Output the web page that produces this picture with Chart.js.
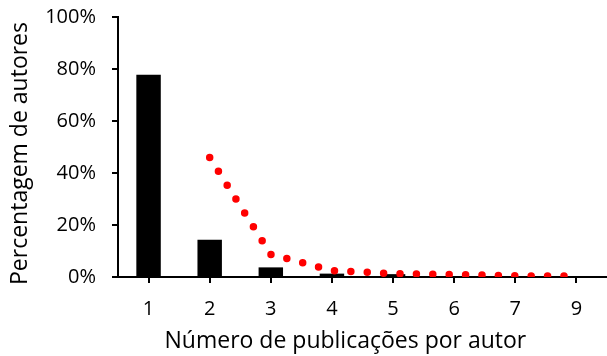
<!DOCTYPE html>
<html>
<head>
<meta charset="utf-8">
<script src="https://cdn.jsdelivr.net/npm/chart.js@4.4.1/dist/chart.umd.min.js"></script>
<style>
  html, body { margin: 0; padding: 0; background: #fff; }
  #wrap { width: 607px; height: 356px; position: relative; }
</style>
</head>
<body>
<div id="wrap"><canvas id="c" width="607" height="356"></canvas></div>
<script>
const categories = ['1', '2', '3', '4', '5', '6', '7', '9'];
const authorPercent = [77.8, 14.3, 3.7, 1.3, 1.1, 0.3, 0.2, 0.1];
const trendPercent = [null, 46.0, 8.7, 2.5, 1.3, 0.95, 0.45, 0.35];
const yTicks = [0, 20, 40, 60, 80, 100];
const xTitle = 'Número de publicações por autor';
const yTitle = 'Percentagem de autores';

const FONT = '"Open Sans", Lato, sans-serif';

const axisTitles = {
  id: 'axisTitles',
  afterDraw(chart) {
    const ctx = chart.ctx;
    const a = chart.chartArea;
    ctx.save();
    ctx.fillStyle = '#000';
    ctx.font = '23px ' + FONT;
    ctx.textAlign = 'center';
    ctx.textBaseline = 'alphabetic';
    ctx.fillText(xTitle, a.left + a.width * 0.465, chart.height - 8);
    ctx.translate(27, a.top + a.height * 0.525);
    ctx.rotate(-Math.PI / 2);
    ctx.fillText(yTitle, 0, 0);
    ctx.restore();
  }
};

new Chart(document.getElementById('c'), {
  type: 'bar',
  data: {
    labels: categories,
    datasets: [
      {
        type: 'line',
        data: trendPercent,
        borderColor: '#ff0000',
        borderWidth: 7.5,
        borderDash: [0, 16.4],
        borderCapStyle: 'round',
        pointRadius: 0,
        fill: false,
        tension: 0,
        spanGaps: false,
        order: 0
      },
      {
        type: 'bar',
        data: authorPercent,
        backgroundColor: '#000000',
        borderWidth: 0,
        categoryPercentage: 1,
        barPercentage: 0.4,
        order: 1
      }
    ]
  },
  plugins: [axisTitles],
  options: {
    responsive: false,
    animation: false,
    devicePixelRatio: 1,
    layout: { padding: { top: 17, right: 0, left: 0, bottom: 0 } },
    plugins: { legend: { display: false }, tooltip: { enabled: false } },
    scales: {
      x: {
        offset: true,
        grid: { display: true, drawOnChartArea: false, drawTicks: true, tickLength: 6, color: '#000', lineWidth: 2, offset: false },
        border: { display: true, color: '#000', width: 2 },
        ticks: { color: '#000', font: { family: FONT, size: 20 }, padding: 14, maxRotation: 0 },
        afterFit: (s) => { s.height = 79; s.paddingLeft = 0; s.paddingRight = 0; }
      },
      y: {
        min: 0,
        max: 100,
        afterBuildTicks: (s) => { s.ticks = yTicks.map(v => ({ value: v })); },
        grid: { display: true, drawOnChartArea: false, drawTicks: true, tickLength: 6, color: '#000', lineWidth: 2 },
        border: { display: true, color: '#000', width: 2 },
        ticks: { color: '#000', font: { family: FONT, size: 20 }, padding: 16, callback: (v) => v + '%' },
        afterFit: (s) => { s.width = 118; s.paddingTop = 0; s.paddingBottom = 0; }
      }
    }
  }
});
</script>
</body>
</html>
